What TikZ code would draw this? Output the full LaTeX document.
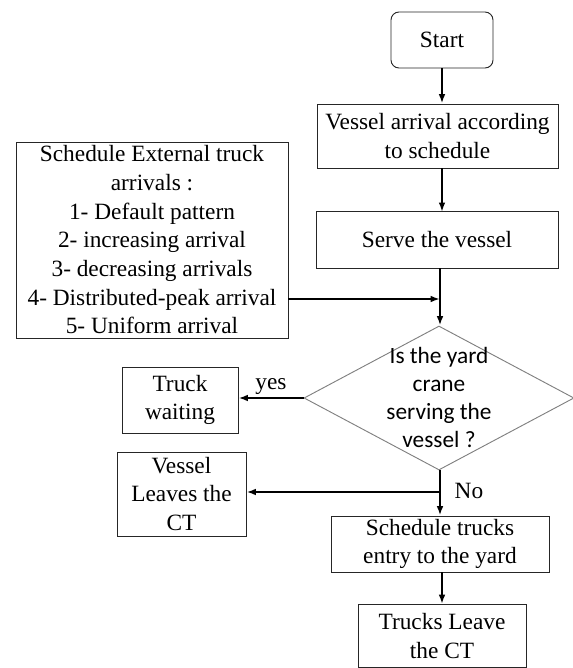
\documentclass[tikz,border=0pt]{standalone}
\usepackage{fontspec}
\setmainfont{Liberation Serif}
\newfontfamily\timesf{Liberation Serif}
\newfontfamily\calib{Carlito}
\usetikzlibrary{shapes.geometric,arrows.meta}
\begin{document}
\begin{tikzpicture}[x=0.75pt,y=-0.75pt,
  box/.style={draw=black!85,line width=0.7pt,inner sep=0pt,align=center,
    font=\timesf\fontsize{17.5}{21.5}\selectfont},
  arr/.style={line width=1.5pt,-{Latex[length=7pt,width=5pt]}},
  lbl/.style={inner sep=0pt,font=\timesf\fontsize{17.5}{21.5}\selectfont}]
\useasboundingbox (0,0) rectangle (572,668);
\node[box,rounded corners=6pt,minimum width=76.5pt,minimum height=42pt] (start) at (442,40) {Start};
\node[box,minimum width=180.75pt,minimum height=48pt] (arrive) at (437.5,136) {Vessel arrival according\\to schedule};
\node[box,minimum width=181.5pt,minimum height=42.75pt] (serve) at (437,239.5) {Serve the vessel};
\node[box,minimum width=204pt,minimum height=147pt] (ext) at (152,240) {Schedule External truck\\arrivals :\\1- Default pattern\\2- increasing arrival\\3- decreasing arrivals\\4- Distributed-peak arrival\\5- Uniform arrival};
\node[draw=black!50,line width=0.7pt,shape=diamond,inner sep=0pt,minimum width=202.5pt,minimum height=108pt] (dia) at (439,398) {};
\node[inner sep=0pt,align=center,font=\calib\fontsize{17.5}{21}\selectfont] (diatext) at (439,397) {Is the yard\\crane\\serving the\\vessel ?};
\node[box,minimum width=87pt,minimum height=49.5pt] (wait) at (180,400) {Truck\\waiting};
\node[box,minimum width=96.75pt,minimum height=63pt] (vleave) at (181.5,494) {Vessel\\Leaves the\\CT};
\node[box,minimum width=163.5pt,minimum height=42pt] (sched) at (440,544) {Schedule trucks\\entry to the yard};
\node[box,minimum width=126pt,minimum height=47.25pt] (tleave) at (442,636) {Trucks Leave\\the CT};
\node[lbl] (yes) at (271,387) {yes};
\node[lbl] (no) at (469,491) {No};
\coordinate (j1) at (440,299);
\coordinate (j2) at (440,492);
\draw[arr] (start.south) -- (start.south |- arrive.north);
\draw[arr] (arrive.south -| start.south) -- ([yshift=-1pt]serve.north -| start.south);
\draw[arr] (serve.south -| j1) -- (dia.north -| j1);
\draw[arr] (j1 -| ext.east) -- (j1);
\draw[arr] (dia.west) -- (dia.west -| wait.east);
\draw[arr] (dia.south -| j2) -- (sched.north -| j2);
\draw[arr] (j2) -- (j2 -| vleave.east);
\draw[arr] (sched.south -| tleave.north) -- (tleave.north);
\end{tikzpicture}
\end{document}
